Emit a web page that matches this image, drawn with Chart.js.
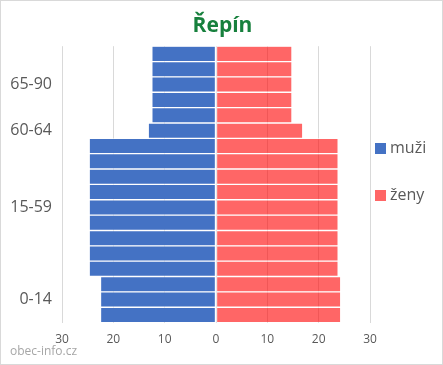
<!DOCTYPE html>
<html><head><meta charset="utf-8">
<script src="https://cdn.jsdelivr.net/npm/chart.js@4.4.0/dist/chart.umd.min.js"></script>
<style>
html,body{margin:0;padding:0;background:#fff;}
#wrap{position:relative;width:443px;height:365px;box-sizing:border-box;border:1px solid #d9d9d9;}
canvas{position:absolute;left:0;top:0;}
#wm{position:absolute;left:9px;top:341px;font-family:"Open Sans",sans-serif;font-size:12px;color:#a6a6a6;}
.lg{position:absolute;left:374px;font-family:"Open Sans",sans-serif;font-size:16px;color:#595959;line-height:20px;white-space:nowrap;}
.lg span{display:inline-block;width:11px;height:11px;margin-right:4px;vertical-align:-1px;}
</style></head>
<body>
<div id="wrap"><canvas id="c" width="443" height="365"></canvas><div id="wm">obec-info.cz</div>
<div id="legend"></div></div>
<script>
const chartTitle = 'Řepín';
const rowLabels = ['', '', '65-90', '', '', '60-64', '', '', '', '', '15-59', '', '', '', '', '', '0-14', ''];
const men   = [12.5,12.5,12.5,12.5,12.5, 13.2, 24.7,24.7,24.7,24.7,24.7,24.7,24.7,24.7,24.7, 22.5,22.5,22.5];
const women = [14.8,14.8,14.8,14.8,14.8, 16.9, 23.8,23.8,23.8,23.8,23.8,23.8,23.8,23.8,23.8, 24.3,24.3,24.3];
const seriesNames = ['muži', 'ženy'];
const xTicks = [-30, -20, -10, 0, 10, 20, 30];

const font = '"Open Sans", sans-serif';
const chart = new Chart(document.getElementById('c'), {
  type: 'bar',
  data: {
    labels: rowLabels,
    datasets: [
      { label: seriesNames[0], data: men.map(v => -v), backgroundColor: '#4472C4',
        borderColor: 'rgba(255,255,255,0.55)', borderWidth: 1, borderSkipped: false },
      { label: seriesNames[1], data: women, backgroundColor: 'rgba(255,0,0,0.6)',
        borderColor: 'rgba(255,255,255,0.55)', borderWidth: 1, borderSkipped: false }
    ]
  },
  options: {
    indexAxis: 'y',
    responsive: false,
    animation: false,
    layout: { padding: { left: 0, right: 0, top: 7, bottom: 9 } },
    datasets: { bar: { barPercentage: 1, categoryPercentage: 1 } },
    scales: {
      x: {
        stacked: true, min: -30, max: 30,
        afterBuildTicks: s => { s.ticks = xTicks.map(v => ({ value: v })); },
        grid: { color: '#d9d9d9', drawTicks: false },
        border: { display: false },
        ticks: { callback: v => Math.abs(v), color: '#595959', font: { family: font, size: 12 }, padding: 10 }
      },
      y: {
        stacked: true,
        grid: { display: false, drawTicks: false },
        border: { display: false },
        afterFit: s => { s.width = 61; },
        ticks: { autoSkip: false, color: '#595959', font: { family: font, size: 16 }, padding: 10 }
      },
      legendSpace: {
        type: 'linear', position: 'right', display: true,
        grid: { display: false, drawTicks: false },
        border: { display: false },
        ticks: { display: false },
        afterFit: s => { s.width = 74; }
      }
    },
    plugins: {
      title: { display: true, text: chartTitle, color: '#17803D', font: { family: font, size: 21, weight: 'bold' }, padding: { top: 5, bottom: 8 } },
      legend: { display: false },
      tooltip: { enabled: false }
    }
  }
});
// HTML legend built from the chart's datasets
const lgTops = [136, 183];
chart.data.datasets.forEach((ds, i) => {
  const d = document.createElement('div');
  d.className = 'lg';
  d.style.top = lgTops[i] + 'px';
  d.innerHTML = '<span style="background:' + (i === 0 ? '#4472C4' : '#FF6666') + '"></span>' + ds.label;
  document.getElementById('wrap').appendChild(d);
});
</script>
</body></html>
